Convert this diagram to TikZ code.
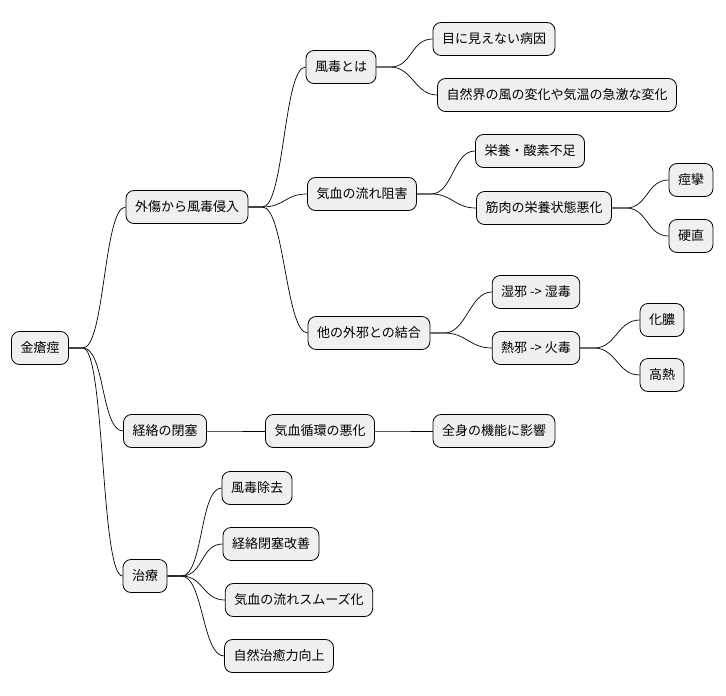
\documentclass[tikz,border=0pt]{standalone}
\usepackage{fontspec}
\setmainfont{Noto Sans CJK JP}
\usetikzlibrary{positioning}
\begin{document}
\begin{tikzpicture}[x=1pt,y=-1pt,
  topic/.style={draw,rounded corners=8pt,fill=black!6,line width=0.8pt,
    minimum height=33pt,inner xsep=9pt,font=\fontsize{13}{15}\selectfont},
  conn/.style={line width=0.7pt,to path={(\tikztostart.east) -- ++(14pt,0)
    .. controls +(22pt,0) and +(-22pt,0) .. (\tikztotarget.west)}}]
  \useasboundingbox (0,0) rectangle (726,696);
  \node[topic] (r) at (40,348) {金瘡痙};

  \node[topic] (a) at (187,207) {外傷から風毒侵入};
  \node[topic] (b) at (165,431) {経絡の閉塞};
  \node[topic] (c) at (145,576) {治療};

  \node[topic] (a1) at (341,67) {風毒とは};
  \node[topic] (a11) at (494,39) {目に見えない病因};
  \node[topic] (a12) at (557,95) {自然界の風の変化や気温の急激な変化};
  \node[topic] (a2) at (362,194) {気血の流れ阻害};
  \node[topic] (a21) at (530,151) {栄養・酸素不足};
  \node[topic] (a22) at (544,208) {筋肉の栄養状態悪化};
  \node[topic] (a221) at (691,180) {痙攣};
  \node[topic] (a222) at (691,236) {硬直};
  \node[topic] (a3) at (369,333) {他の外邪との結合};
  \node[topic] (a31) at (536,292) {湿邪 -> 湿毒};
  \node[topic] (a32) at (536,348) {熱邪 -> 火毒};
  \node[topic] (a321) at (662,320) {化膿};
  \node[topic] (a322) at (662,375) {高熱};

  \node[topic] (b1) at (320,431) {気血循環の悪化};
  \node[topic] (b11) at (494,431) {全身の機能に影響};

  \node[topic] (c1) at (257,488) {風毒除去};
  \node[topic] (c2) at (271,544) {経絡閉塞改善};
  \node[topic] (c3) at (299,600) {気血の流れスムーズ化};
  \node[topic] (c4) at (279,656) {自然治癒力向上};

  \path
  (r) edge[conn] (a) edge[conn] (b) edge[conn] (c)
  (a) edge[conn] (a1) edge[conn] (a2) edge[conn] (a3)
  (a1) edge[conn] (a11) edge[conn] (a12)
  (a2) edge[conn] (a21) edge[conn] (a22)
  (a22) edge[conn] (a221) edge[conn] (a222)
  (a3) edge[conn] (a31) edge[conn] (a32)
  (a32) edge[conn] (a321) edge[conn] (a322)
  (b) edge[conn] (b1)
  (b1) edge[conn] (b11)
  (c) edge[conn] (c1) edge[conn] (c2) edge[conn] (c3) edge[conn] (c4)
  ;
\end{tikzpicture}
\end{document}
